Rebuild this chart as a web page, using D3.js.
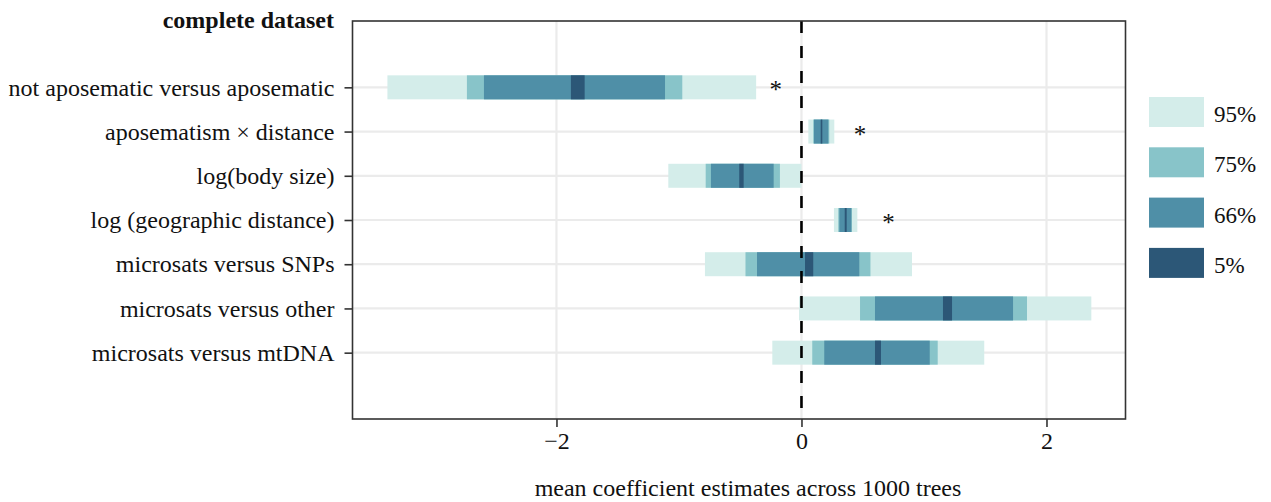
<!DOCTYPE html>
<html>
<head>
<meta charset="utf-8">
<script src="https://cdn.jsdelivr.net/npm/d3@7"></script>
<style>
  body { margin: 0; background: #fff; }
  text { font-family: "Liberation Serif", "Times New Roman", serif; fill: #111; }
</style>
</head>
<body>
<div id="chart"></div>
<script>
// data
const terms = [
    "not aposematic versus aposematic",
    "aposematism \u00d7 distance",
    "log(body size)",
    "log (geographic distance)",
    "microsats versus SNPs",
    "microsats versus other",
    "microsats versus mtDNA"
];
// [low, high] for each interval, one entry per term
const ci95 = [[-3.38, -0.37], [0.056, 0.268], [-1.087, 0.0], [0.265, 0.456], [-0.788, 0.902], [-0.02, 2.366], [-0.238, 1.492]];
const ci75 = [[-2.731, -0.973], [0.096, 0.227], [-0.782, -0.176], [0.30, 0.412], [-0.457, 0.563], [0.478, 1.841], [0.088, 1.112]];
const ci66 = [[-2.592, -1.114], [0.102, 0.219], [-0.739, -0.227], [0.309, 0.407], [-0.363, 0.472], [0.60, 1.727], [0.186, 1.047]];
const ci5 = [[-1.882, -1.770], [0.157, 0.170], [-0.508, -0.472], [0.353, 0.369], [0.029, 0.096], [1.155, 1.229], [0.60, 0.649]];
// significance stars: term index and x position
const stars = [[0, -0.21], [1, 0.478], [3, 0.71]];
const levels = ["95%", "75%", "66%", "5%"];
const colors = ["#d4edea", "#88c4c9", "#4f8fa7", "#2c5777"];
const xTicks = [-2, 0, 2];

const width = 1271, height = 502;
const padL = 352.5, padR = 1125.5, padT = 21, padB = 419;

const svg = d3.select("#chart").append("svg")
    .attr("width", width)
    .attr("height", height);

// scales
// ------------------------------------------------------
const x = d3.scaleLinear()
    .domain([-3.665, 2.645])
    .range([padL, padR]);

const y = d3.scalePoint()
    .domain(terms)
    .range([padT, padB])
    .padding(1.5);

const barH = 24;

// grid
// ------------------------------------------------------
const grid = svg.append("g");
grid.selectAll(".vgrid")
    .data(xTicks)
    .enter().append("line")
        .attr("x1", d => x(d)).attr("x2", d => x(d))
        .attr("y1", padT).attr("y2", padB)
        .attr("stroke", "#ebebeb").attr("stroke-width", 2.2);
grid.selectAll(".hgrid")
    .data(terms)
    .enter().append("line")
        .attr("x1", padL).attr("x2", padR)
        .attr("y1", d => y(d)).attr("y2", d => y(d))
        .attr("stroke", "#ebebeb").attr("stroke-width", 2.2);

// intervals
// ------------------------------------------------------
const layers = [ci95, ci75, ci66, ci5];
layers.forEach((layer, li) => {
    svg.append("g").selectAll("rect")
        .data(layer)
        .enter().append("rect")
            .attr("x", d => x(d[0]))
            .attr("width", d => x(d[1]) - x(d[0]))
            .attr("y", (d, i) => y(terms[i]) - barH / 2)
            .attr("height", barH)
            .attr("fill", colors[li]);
});

// zero line
svg.append("line")
    .attr("x1", x(0)).attr("x2", x(0))
    .attr("y1", padT).attr("y2", padB)
    .attr("stroke", "#000")
    .attr("stroke-width", 2.6)
    .attr("stroke-dasharray", "12,13");

// stars
svg.selectAll(".star")
    .data(stars)
    .enter().append("text")
        .attr("x", d => x(d[1]))
        .attr("y", d => y(terms[d[0]]) + 11)
        .attr("text-anchor", "middle")
        .style("font-size", "25px")
        .text("*");

// panel border
svg.append("rect")
    .attr("x", padL).attr("y", padT)
    .attr("width", padR - padL).attr("height", padB - padT)
    .attr("fill", "none")
    .attr("stroke", "#333")
    .attr("stroke-width", 1.6);

// axes
// ------------------------------------------------------
const xAxis = svg.append("g")
    .attr("transform", `translate(0,${padB})`)
    .call(d3.axisBottom(x).tickValues(xTicks).tickSize(8).tickPadding(5)
        .tickFormat(d => d < 0 ? "\u2212" + Math.abs(d) : d));
xAxis.select(".domain").remove();
xAxis.selectAll(".tick line").attr("stroke", "#333").attr("stroke-width", 1.6);
xAxis.selectAll(".tick text").style("font-size", "24px");

const yAxis = svg.append("g")
    .attr("transform", `translate(${padL},0)`)
    .call(d3.axisLeft(y).tickSize(8).tickPadding(10));
yAxis.select(".domain").remove();
yAxis.selectAll(".tick line").attr("stroke", "#333").attr("stroke-width", 1.6);
yAxis.selectAll(".tick text").style("font-size", "24px");

svg.append("text")
    .attr("x", 334).attr("y", 28)
    .attr("text-anchor", "end")
    .style("font-size", "24px")
    .style("font-weight", "bold")
    .text("complete dataset");

svg.append("text")
    .attr("x", 748).attr("y", 496)
    .attr("text-anchor", "middle")
    .style("font-size", "24px")
    .text("mean coefficient estimates across 1000 trees");

// legend
// ------------------------------------------------------
const legend = svg.append("g")
    .attr("transform", "translate(1149,97)");
const item = legend.selectAll(".item")
    .data(levels)
    .enter().append("g")
        .attr("transform", (d, i) => `translate(0,${i * 50.3})`);
item.append("rect")
    .attr("width", 55).attr("height", 30)
    .attr("fill", (d, i) => colors[i]);
item.append("text")
    .attr("x", 65).attr("y", 25)
    .style("font-size", "23px")
    .text(d => d);
</script>
</body>
</html>
